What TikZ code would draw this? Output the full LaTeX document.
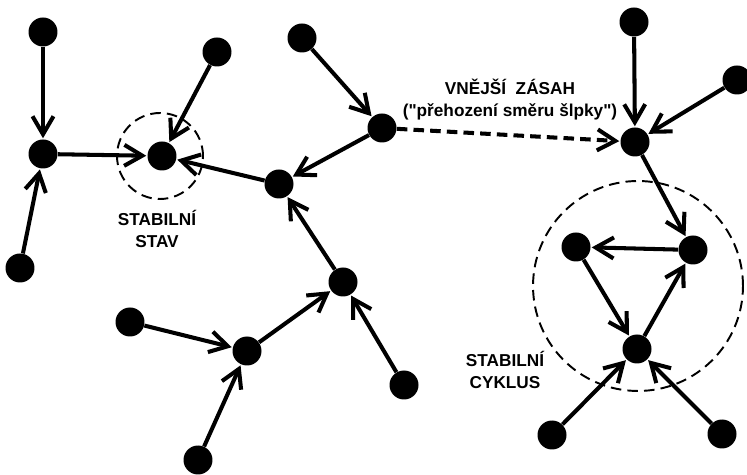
\documentclass[tikz,border=0pt]{standalone}
\usepackage{fontspec}
\setmainfont{Liberation Sans}[Ligatures=TeXOff]
\usepackage{tikz}
\usetikzlibrary{arrows.meta}

\begin{document}
\begin{tikzpicture}[x=0.02cm, y=-0.02cm,
		dot/.style={circle, fill=black, inner sep=0pt, minimum size=0.58cm},
		link/.style={line width=2.3pt, shorten >=0.5pt, -{Straight Barb[length=3.6mm, width=4.2mm]}},
		jump/.style={link, dash pattern=on 6pt off 3.5pt},
		zone/.style={draw, line width=1.1pt, dash pattern=on 6pt off 3.5pt},
		caption/.style={font=\fontsize{9.8}{12.5}\selectfont\bfseries, align=center}]
		
		\useasboundingbox (0, 0) rectangle (747, 475);
		
		% stable state and stable cycle
		\draw[zone] (160, 156) circle[radius=0.86cm];
		\draw[zone] (638, 286) circle[radius=2.1cm];
		
		% left tree
		\node[dot] (a1) at (43, 32) {};
		\node[dot] (a2) at (43, 154) {};
		\node[dot] (a3) at (20, 268) {};
		\node[dot] (a4) at (217, 52) {};
		\node[dot] (st) at (162, 156) {};
		\node[dot] (b)  at (279, 184) {};
		\node[dot] (c)  at (302, 38) {};
		\node[dot] (d)  at (382, 128) {};
		\node[dot] (e)  at (343, 282) {};
		\node[dot] (f)  at (404, 385) {};
		\node[dot] (g)  at (247, 351) {};
		\node[dot] (h)  at (130, 322) {};
		\node[dot] (i)  at (198, 460) {};
		
		% right tree
		\node[dot] (r1) at (634, 22) {};
		\node[dot] (r2) at (737, 80) {};
		\node[dot] (r3) at (635, 142) {};
		\node[dot] (r4) at (693, 250) {};
		\node[dot] (r5) at (576, 247) {};
		\node[dot] (r6) at (637, 349) {};
		\node[dot] (r7) at (552, 435) {};
		\node[dot] (r8) at (722, 434) {};
		
		\draw[link] (a1) -- (a2);
		\draw[link] (a3) -- (a2);
		\draw[link] (a2) -- (st);
		\draw[link] (a4) -- (st);
		\draw[link] (b) -- (st);
		\draw[link] (d) -- (b);
		\draw[link] (c) -- (d);
		\draw[link] (e) -- (b);
		\draw[link] (f) -- (e);
		\draw[link] (g) -- (e);
		\draw[link] (h) -- (g);
		\draw[link] (i) -- (g);
		
		\draw[jump] (d) -- (r3);
		
		\draw[link] (r1) -- (r3);
		\draw[link] (r2) -- (r3);
		\draw[link] (r3) -- (r4);
		\draw[link] (r4) -- (r5);
		\draw[link] (r5) -- (r6);
		\draw[link] (r6) -- (r4);
		\draw[link] (r7) -- (r6);
		\draw[link] (r8) -- (r6);
		
		% labels
		\node[caption] (lstav) at (157, 229) {STABILNÍ\\STAV};
		\node[caption] (lzasah) at (510, 100) {VNĚJŠÍ\ \ ZÁSAH\\("přehození směru šlpky")};
		\node[caption] (lcyklus) at (505, 370) {STABILNÍ\\CYKLUS};
		
	\end{tikzpicture}
\end{document}
